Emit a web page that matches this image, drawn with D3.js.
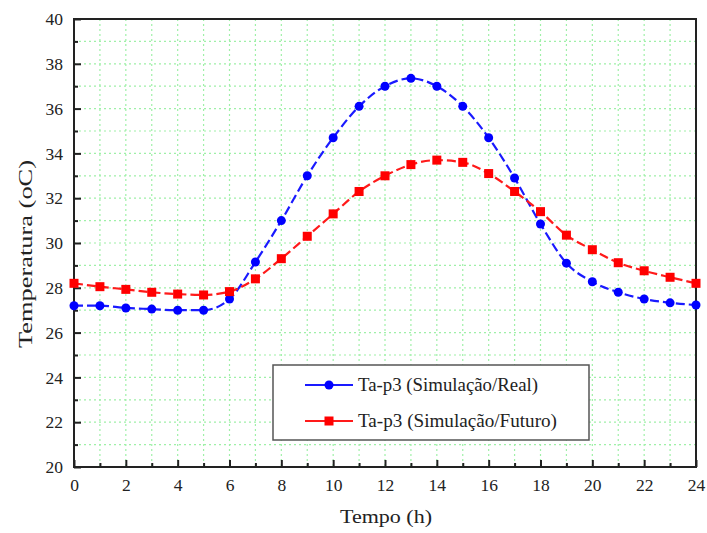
<!DOCTYPE html>
<html>
<head>
<meta charset="utf-8">
<script src="https://cdn.jsdelivr.net/npm/d3@7"></script>
<style>
html,body{margin:0;padding:0;background:#fff;}
svg text{font-family:'Liberation Serif','Times New Roman','DejaVu Serif',serif !important;fill:#222;}
</style>
</head>
<body>
<svg id="chart" width="707" height="533"></svg>
<script>
const hours = [0,1,2,3,4,5,6,7,8,9,10,11,12,13,14,15,16,17,18,19,20,21,22,23,24];
const real = [27.2,27.2,27.1,27.05,27.0,27.0,27.5,29.15,31.0,33.0,34.7,36.1,37.0,37.35,37.0,36.1,34.7,32.9,30.85,29.1,28.27,27.8,27.5,27.33,27.23];
const futuro = [28.2,28.05,27.93,27.8,27.72,27.68,27.83,28.4,29.3,30.3,31.3,32.3,33.0,33.5,33.7,33.6,33.1,32.3,31.4,30.35,29.7,29.12,28.76,28.47,28.2];
const xTicks = [0,2,4,6,8,10,12,14,16,18,20,22,24];
const yTicks = [20,22,24,26,28,30,32,34,36,38,40];
const seriesNames = ["Ta-p3 (Simulação/Real)","Ta-p3 (Simulação/Futuro)"];
const xTitle = "Tempo (h)";
const yTitle = "Temperatura (oC)";

const svg = d3.select("#chart");
const L = 74, R = 696, T = 19, B = 467;
const x = d3.scaleLinear().domain([0,24]).range([L,R]);
const y = d3.scaleLinear().domain([20,40]).range([B,T]);
const FONT = "'Liberation Serif','Times New Roman',serif";

// grid
const grid = svg.append("g").attr("stroke","#9ff0a8").attr("stroke-width",1.2).attr("stroke-dasharray","2,3");
d3.range(1,24).forEach(v=>{
  grid.append("line").attr("x1",x(v)).attr("x2",x(v)).attr("y1",T).attr("y2",B);
});
d3.range(21,40).forEach(v=>{
  grid.append("line").attr("x1",L).attr("x2",R).attr("y1",y(v)).attr("y2",y(v));
});

// frame
svg.append("rect").attr("x",L).attr("y",T).attr("width",R-L).attr("height",B-T)
  .attr("fill","none").attr("stroke","#222").attr("stroke-width",2);

// axes
const xAxis = svg.append("g").attr("transform",`translate(0,${B})`)
  .call(d3.axisBottom(x).tickValues(xTicks).tickSize(-7).tickPadding(12).tickFormat(d3.format("d")));
const xMinor = svg.append("g").attr("transform",`translate(0,${B})`)
  .call(d3.axisBottom(x).tickValues(d3.range(1,24,2)).tickSize(-4).tickFormat(""));
const yAxis = svg.append("g").attr("transform",`translate(${L},0)`)
  .call(d3.axisLeft(y).tickValues(yTicks).tickSize(-7).tickPadding(11).tickFormat(d3.format("d")));
const yMinor = svg.append("g").attr("transform",`translate(${L},0)`)
  .call(d3.axisLeft(y).tickValues(d3.range(21,40,2)).tickSize(-4).tickFormat(""));
[xAxis,xMinor,yAxis,yMinor].forEach(g=>{
  g.attr("font-family",FONT);
  g.select(".domain").remove();
  g.selectAll(".tick line").attr("stroke","#222").attr("stroke-width",2);
  g.selectAll("text").attr("font-size",17.5).attr("fill","#222").style("font-family",FONT);
});

// titles
svg.append("text").attr("x",386).attr("y",523).attr("text-anchor","middle")
  .attr("font-size",19).attr("textLength",92).attr("lengthAdjust","spacingAndGlyphs")
  .style("font-family",FONT).text(xTitle);
svg.append("text").attr("transform",`translate(32,254) rotate(-90)`)
  .attr("text-anchor","middle").attr("font-size",19).attr("textLength",188).attr("lengthAdjust","spacingAndGlyphs")
  .style("font-family",FONT).text(yTitle);

// lines
const line = d3.line().x((d,i)=>x(hours[i])).y(d=>y(d)).curve(d3.curveMonotoneX);
svg.append("path").datum(real).attr("d",line).attr("fill","none")
  .attr("stroke","#1a1aff").attr("stroke-width",2.2).attr("stroke-dasharray","9,4");
svg.append("path").datum(futuro).attr("d",line).attr("fill","none")
  .attr("stroke","#ff1a1a").attr("stroke-width",2.2).attr("stroke-dasharray","9,4");

svg.append("g").selectAll("circle").data(real).join("circle")
  .attr("cx",(d,i)=>x(hours[i])).attr("cy",d=>y(d)).attr("r",4.5).attr("fill","#0000ff");
svg.append("g").selectAll("rect").data(futuro).join("rect")
  .attr("x",(d,i)=>x(hours[i])-4.5).attr("y",d=>y(d)-4.5).attr("width",9).attr("height",9).attr("fill","#ff0000");

// legend
const lg = svg.append("g");
lg.append("rect").attr("x",273).attr("y",365).attr("width",316).attr("height",75)
  .attr("fill","#fff").attr("stroke","#555").attr("stroke-width",1.5);
const rows = [{c:"#1a1aff",m:"circle",yy:385,len:180},{c:"#ff1a1a",m:"rect",yy:421,len:199}];
rows.forEach((r,i)=>{
  lg.append("line").attr("x1",305).attr("x2",353).attr("y1",r.yy).attr("y2",r.yy)
    .attr("stroke",r.c).attr("stroke-width",2.2);
  if(r.m==="circle") lg.append("circle").attr("cx",329).attr("cy",r.yy).attr("r",4.5).attr("fill","#0000ff");
  else lg.append("rect").attr("x",324.5).attr("y",r.yy-4.5).attr("width",9).attr("height",9).attr("fill","#ff0000");
  lg.append("text").attr("x",358).attr("y",r.yy+6).attr("font-size",18)
    .attr("textLength",r.len).attr("lengthAdjust","spacingAndGlyphs")
    .style("font-family",FONT).text(seriesNames[i]);
});
</script>
</body>
</html>
